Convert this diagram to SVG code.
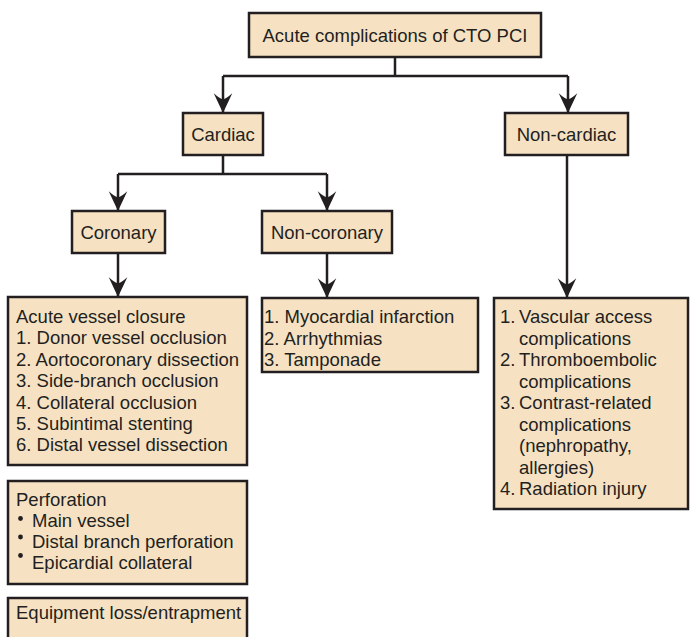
<svg xmlns="http://www.w3.org/2000/svg" width="690" height="637" viewBox="0 0 690 637">
  <style>
    .box { fill: #F6E2C3; stroke: #231F20; stroke-width: 2.5; }
    .lbl { font-family: "Liberation Sans", Arial, sans-serif; font-size: 18.5px; fill: #231F20; }
    .mid { text-anchor: middle; }
    .wire { fill: none; stroke: #231F20; stroke-width: 2.5; }
    .dot { fill: #231F20; }
  </style>
  <defs>
    <marker id="arrow" markerUnits="userSpaceOnUse" markerWidth="24" markerHeight="24" refX="0" refY="0" viewBox="-20 -10 22 20" orient="auto">
      <path d="M0,0 L-18,-8.5 Q-13,-3 -12.5,0 Q-13,3 -18,8.5 Z" fill="#231F20"/>
    </marker>
  </defs>

  <!-- connectors -->
  <g id="connectors">
    <path class="wire" d="M395,57 V76 M223,76 H568"/>
    <path class="wire" d="M223,76 V113" marker-end="url(#arrow)"/>
    <path class="wire" d="M568,76 V113" marker-end="url(#arrow)"/>
    <path class="wire" d="M223,155 V174 M118,174 H327"/>
    <path class="wire" d="M118,174 V211" marker-end="url(#arrow)"/>
    <path class="wire" d="M327,174 V211" marker-end="url(#arrow)"/>
    <path class="wire" d="M118,253 V297" marker-end="url(#arrow)"/>
    <path class="wire" d="M327,253 V298" marker-end="url(#arrow)"/>
    <path class="wire" d="M567,155 V298" marker-end="url(#arrow)"/>
  </g>

  <!-- root -->
  <g id="root">
    <rect class="box" x="249" y="13" width="292" height="44"/>
    <text class="lbl mid" x="395" y="41.5">Acute complications of CTO PCI</text>
  </g>

  <g id="cardiac">
    <rect class="box" x="183" y="113" width="80" height="42"/>
    <text class="lbl mid" x="223" y="140.5">Cardiac</text>
  </g>

  <g id="noncardiac">
    <rect class="box" x="505" y="113" width="123" height="42"/>
    <text class="lbl mid" x="566.5" y="140.5">Non-cardiac</text>
  </g>

  <g id="coronary">
    <rect class="box" x="72" y="211" width="93" height="42"/>
    <text class="lbl mid" x="118.5" y="238.5">Coronary</text>
  </g>

  <g id="noncoronary">
    <rect class="box" x="262" y="211" width="130" height="42"/>
    <text class="lbl mid" x="327" y="238.5">Non-coronary</text>
  </g>

  <!-- coronary outcomes -->
  <g id="vessel-closure">
    <rect class="box" x="8" y="297" width="239" height="168"/>
    <text class="lbl" x="16" y="323">Acute vessel closure</text>
    <text class="lbl" x="16" y="344.4">1. Donor vessel occlusion</text>
    <text class="lbl" x="16" y="365.8">2. Aortocoronary dissection</text>
    <text class="lbl" x="16" y="387.2">3. Side-branch occlusion</text>
    <text class="lbl" x="16" y="408.6">4. Collateral occlusion</text>
    <text class="lbl" x="16" y="430">5. Subintimal stenting</text>
    <text class="lbl" x="16" y="451.4">6. Distal vessel dissection</text>
  </g>

  <g id="perforation">
    <rect class="box" x="8" y="481" width="239" height="103"/>
    <text class="lbl" x="16" y="505.5">Perforation</text>
    <circle class="dot" cx="20.5" cy="518.5" r="2.4"/>
    <circle class="dot" cx="20.5" cy="537" r="2.4"/>
    <circle class="dot" cx="20.5" cy="555.5" r="2.4"/>
    <text class="lbl" x="32" y="526.5">Main vessel</text>
    <text class="lbl" x="32" y="547.5">Distal branch perforation</text>
    <text class="lbl" x="32" y="569">Epicardial collateral</text>
  </g>

  <g id="equipment">
    <rect class="box" x="8" y="598" width="239" height="60"/>
    <text class="lbl" x="16" y="619">Equipment loss/entrapment</text>
  </g>

  <!-- non-coronary outcomes -->
  <g id="noncoronary-list">
    <rect class="box" x="262" y="298" width="216" height="74"/>
    <text class="lbl" x="264" y="323">1. Myocardial infarction</text>
    <text class="lbl" x="264" y="344.5">2. Arrhythmias</text>
    <text class="lbl" x="264" y="366">3. Tamponade</text>
  </g>

  <!-- non-cardiac outcomes -->
  <g id="noncardiac-list">
    <rect class="box" x="494" y="298" width="194" height="211"/>
    <text class="lbl" x="500" y="323.3">1.</text>
    <text class="lbl" x="519" y="323.3">Vascular access</text>
    <text class="lbl" x="519" y="344.8">complications</text>
    <text class="lbl" x="500" y="366.2">2.</text>
    <text class="lbl" x="519" y="366.2">Thromboembolic</text>
    <text class="lbl" x="519" y="387.7">complications</text>
    <text class="lbl" x="500" y="409.1">3.</text>
    <text class="lbl" x="519" y="409.1">Contrast-related</text>
    <text class="lbl" x="519" y="430.6">complications</text>
    <text class="lbl" x="519" y="452">(nephropathy,</text>
    <text class="lbl" x="519" y="473.5">allergies)</text>
    <text class="lbl" x="500" y="495">4.</text>
    <text class="lbl" x="519" y="495">Radiation injury</text>
  </g>
</svg>
